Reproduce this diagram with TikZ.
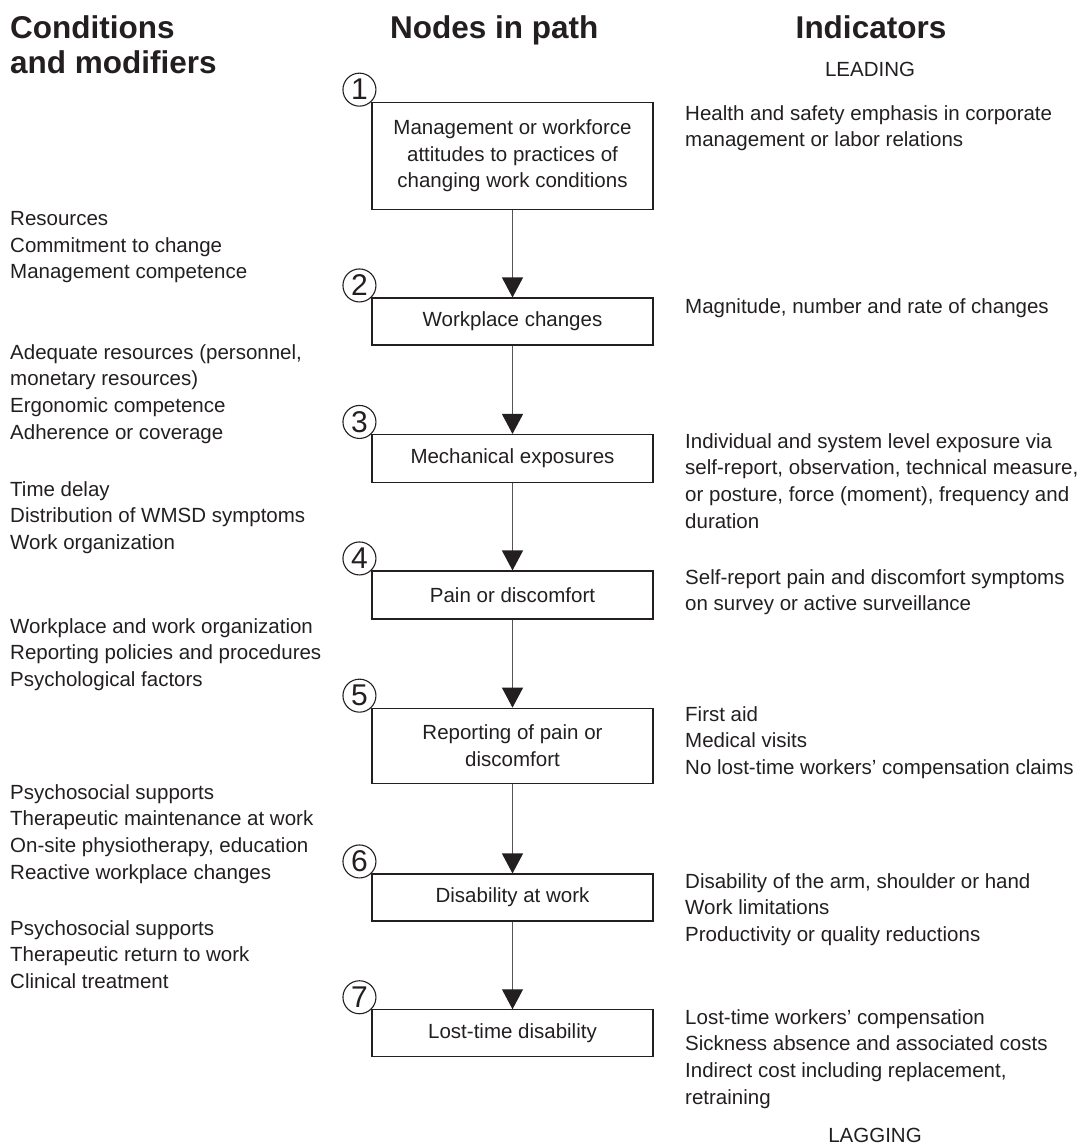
\documentclass[tikz,border=0pt]{standalone}
\usepackage{fontspec}
\setmainfont{Liberation Sans}
\usetikzlibrary{arrows.meta,calc}
\definecolor{ink}{HTML}{231F20}
\definecolor{linegray}{HTML}{555555}
\begin{document}
\begin{tikzpicture}[x=1pt,y=-1pt,
  every node/.style={text=ink},
  body/.style={font=\fontsize{20.5}{26.8}\selectfont},
  head/.style={font=\fontsize{31.5}{35}\selectfont\bfseries, inner sep=0pt},
  txt/.style={body, align=left, anchor=north west, inner sep=0pt},
  pathbox/.style={body, draw=ink, line width=1.1pt, minimum width=281pt, align=center, inner sep=0pt},
  numc/.style={circle, draw=ink, line width=1.1pt, minimum size=33pt, inner sep=0pt, font=\fontsize{30}{30}\selectfont},
  flow/.style={draw=linegray, line width=1.1pt, -{Triangle[length=20pt,width=21pt,color=ink,fill=ink]}},
  tag/.style={body, inner sep=0pt, anchor=north}
]
\useasboundingbox (0,0) rectangle (1087,1145);

% headings
\node[head, anchor=north west, align=left] (hc) at (10,15) {Conditions\\and modifiers};
\node[head, anchor=north west] (hn) at (390,15) {Nodes in path};
\node[head, anchor=north] (hi) at (871,15) {Indicators};
\node[tag] (lead) at (870,62) {LEADING};
\node[tag] (lag) at (875,1128) {LAGGING};

% path boxes
\node[pathbox, minimum height=107pt] (b1) at (512.5,155.7) {Management or workforce\\attitudes to practices of\\changing work conditions};
\node[pathbox, minimum height=47pt] (b2) at (512.5,321.5) {Workplace changes};
\node[pathbox, minimum height=48pt] (b3) at (512.5,458.5) {Mechanical exposures};
\node[pathbox, minimum height=48pt] (b4) at (512.5,595) {Pain or discomfort};
\node[pathbox, minimum height=75pt] (b5) at (512.5,745.7) {Reporting of pain or\\discomfort};
\node[pathbox, minimum height=47pt] (b6) at (512.5,897.5) {Disability at work};
\node[pathbox, minimum height=47pt] (b7) at (512.5,1033.3) {Lost-time disability};

% numbers
\foreach \i in {1,...,7}{
  \node[numc] (n\i) at ($(b\i.north west)+(-12,-12)$) {\i};
}

% arrows
\draw[flow] (b1.south) -- (b2.north);
\draw[flow] (b2.south) -- (b3.north);
\draw[flow] (b3.south) -- (b4.north);
\draw[flow] (b4.south) -- (b5.north);
\draw[flow] (b5.south) -- (b6.north);
\draw[flow] (b6.south) -- (b7.north);

% conditions and modifiers
\node[txt] (c1) at (10,211) {Resources\\Commitment to change\\Management competence};
\node[txt] (c2) at (10,344) {Adequate resources (personnel,\\monetary resources)\\Ergonomic competence\\Adherence or coverage};
\node[txt] (c3) at (10,481) {Time delay\\Distribution of WMSD symptoms\\Work organization};
\node[txt] (c4) at (10,618) {Workplace and work organization\\Reporting policies and procedures\\Psychological factors};
\node[txt] (c5) at (10,784) {Psychosocial supports\\Therapeutic maintenance at work\\On-site physiotherapy, education\\Reactive workplace changes};
\node[txt] (c6) at (10,920) {Psychosocial supports\\Therapeutic return to work\\Clinical treatment};

% indicators
\node[txt] (i1) at (685,105) {Health and safety emphasis in corporate\\management or labor relations};
\node[txt] (i2) at (685,298) {Magnitude, number and rate of changes};
\node[txt] (i3) at (685,433) {Individual and system level exposure via\\self-report, observation, technical measure,\\or posture, force (moment), frequency and\\duration};
\node[txt] (i4) at (685,569) {Self-report pain and discomfort symptoms\\on survey or active surveillance};
\node[txt] (i5) at (685,706) {First aid\\Medical visits\\No lost-time workers’ compensation claims};
\node[txt] (i6) at (685,873) {Disability of the arm, shoulder or hand\\Work limitations\\Productivity or quality reductions};
\node[txt] (i7) at (685,1009) {Lost-time workers’ compensation\\Sickness absence and associated costs\\Indirect cost including replacement,\\retraining};
\end{tikzpicture}
\end{document}
